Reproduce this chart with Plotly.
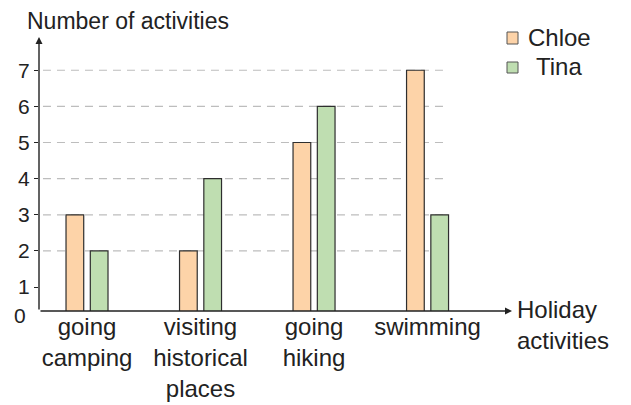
import plotly.graph_objects as go

# Data
activities = ["going<br>camping", "visiting<br>historical<br>places", "going<br>hiking", "swimming"]
series_names = ["Chloe", "Tina"]
chloe = [3, 2, 5, 7]
tina = [2, 4, 6, 3]
y_ticks = [1, 2, 3, 4, 5, 6, 7]
grid_values = [2, 3, 4, 5, 6, 7]

colors = ["#FDD3A8", "#BFDEB1"]
edge = "#2e2e2e"
font_family = "Liberation Sans, Arial, sans-serif"

W, H = 631, 405
L, R, T, B = 39, 119, 37, 94
PW, PH = W - L - R, H - T - B


def px_x(p):
    return (p - L) / PW


def px_y(p):
    return (H - B - p) / PH


x_pos = list(range(len(activities)))

fig = go.Figure()
fig.add_trace(go.Bar(
    x=x_pos, y=chloe, name=series_names[0], width=0.156, offset=-0.185,
    marker=dict(color=colors[0], line=dict(color=edge, width=1.2)),
))
fig.add_trace(go.Bar(
    x=x_pos, y=tina, name=series_names[1], width=0.156, offset=0.029,
    marker=dict(color=colors[1], line=dict(color=edge, width=1.2)),
))

# dashed guide lines behind the bars
shapes = []
for v in grid_values:
    shapes.append(dict(type="line", xref="x", yref="y", x0=-0.388, x1=3.18, y0=v, y1=v,
                       line=dict(color="#bdbdbd", width=1.2, dash="8px,6px"), layer="below"))

# legend drawn by hand: swatch + name
legend_rows = [(32, 44, 526), (62, 73, 534)]
annotations = []
for (y0, y1, tx), name, col in zip(legend_rows, series_names, colors):
    shapes.append(dict(type="rect", xref="paper", yref="paper",
                       x0=px_x(507), x1=px_x(518), y0=px_y(y1), y1=px_y(y0),
                       fillcolor=col, line=dict(color="#555", width=1)))
    annotations.append(dict(xref="paper", yref="paper", x=px_x(tx), y=px_y((y0 + y1) / 2 - 1),
                            xanchor="left", yanchor="middle", text=name, showarrow=False,
                            font=dict(size=24, color="#222", family=font_family)))

# axes with arrowheads
annotations.append(dict(xref="paper", yref="paper", x=0, y=1, ax=0, ay=PH, axref="pixel", ayref="pixel",
                        text="", showarrow=True, arrowhead=2, arrowsize=1.0, arrowwidth=1.4,
                        arrowcolor="#222", standoff=0, startstandoff=0))
annotations.append(dict(xref="paper", yref="paper", x=1, y=0, ax=-PW, ay=0, axref="pixel", ayref="pixel",
                        text="", showarrow=True, arrowhead=2, arrowsize=1.0, arrowwidth=1.4,
                        arrowcolor="#222", standoff=0, startstandoff=0))

# axis titles and origin label
annotations.append(dict(xref="paper", yref="paper", x=px_x(25), y=px_y(21), xanchor="left",
                        yanchor="middle", text="Number of activities", showarrow=False,
                        font=dict(size=23, color="#222", family=font_family)))
annotations.append(dict(xref="paper", yref="paper", x=px_x(515), y=px_y(325), xanchor="left",
                        yanchor="middle", align="left", text="Holiday<br>activities", showarrow=False,
                        font=dict(size=24, color="#222", family=font_family)))
annotations.append(dict(xref="paper", yref="paper", x=px_x(28), y=px_y(315), xanchor="right",
                        yanchor="middle", text="0", showarrow=False,
                        font=dict(size=21, color="#222", family=font_family)))

fig.update_layout(
    width=W, height=H,
    margin=dict(l=L, r=R, t=T, b=B, pad=0, autoexpand=False),
    paper_bgcolor="white", plot_bgcolor="white",
    showlegend=False,
    barmode="overlay",
    shapes=shapes,
    annotations=annotations,
    font=dict(family=font_family, color="#222"),
    xaxis=dict(range=[-0.423, 3.744], tickvals=x_pos, ticktext=activities,
               showgrid=False, zeroline=False, showline=False, ticks="", automargin=False,
               ticklabelstandoff=-1, tickfont=dict(size=24, color="#222")),
    yaxis=dict(range=[0.337, 7.92], tickvals=y_ticks, showgrid=False, zeroline=False,
               showline=False, ticks="outside", ticklen=4, tickwidth=1.4, tickcolor="#222",
               automargin=False, tickfont=dict(size=21, color="#222")),
)

fig.write_html("out.html")
